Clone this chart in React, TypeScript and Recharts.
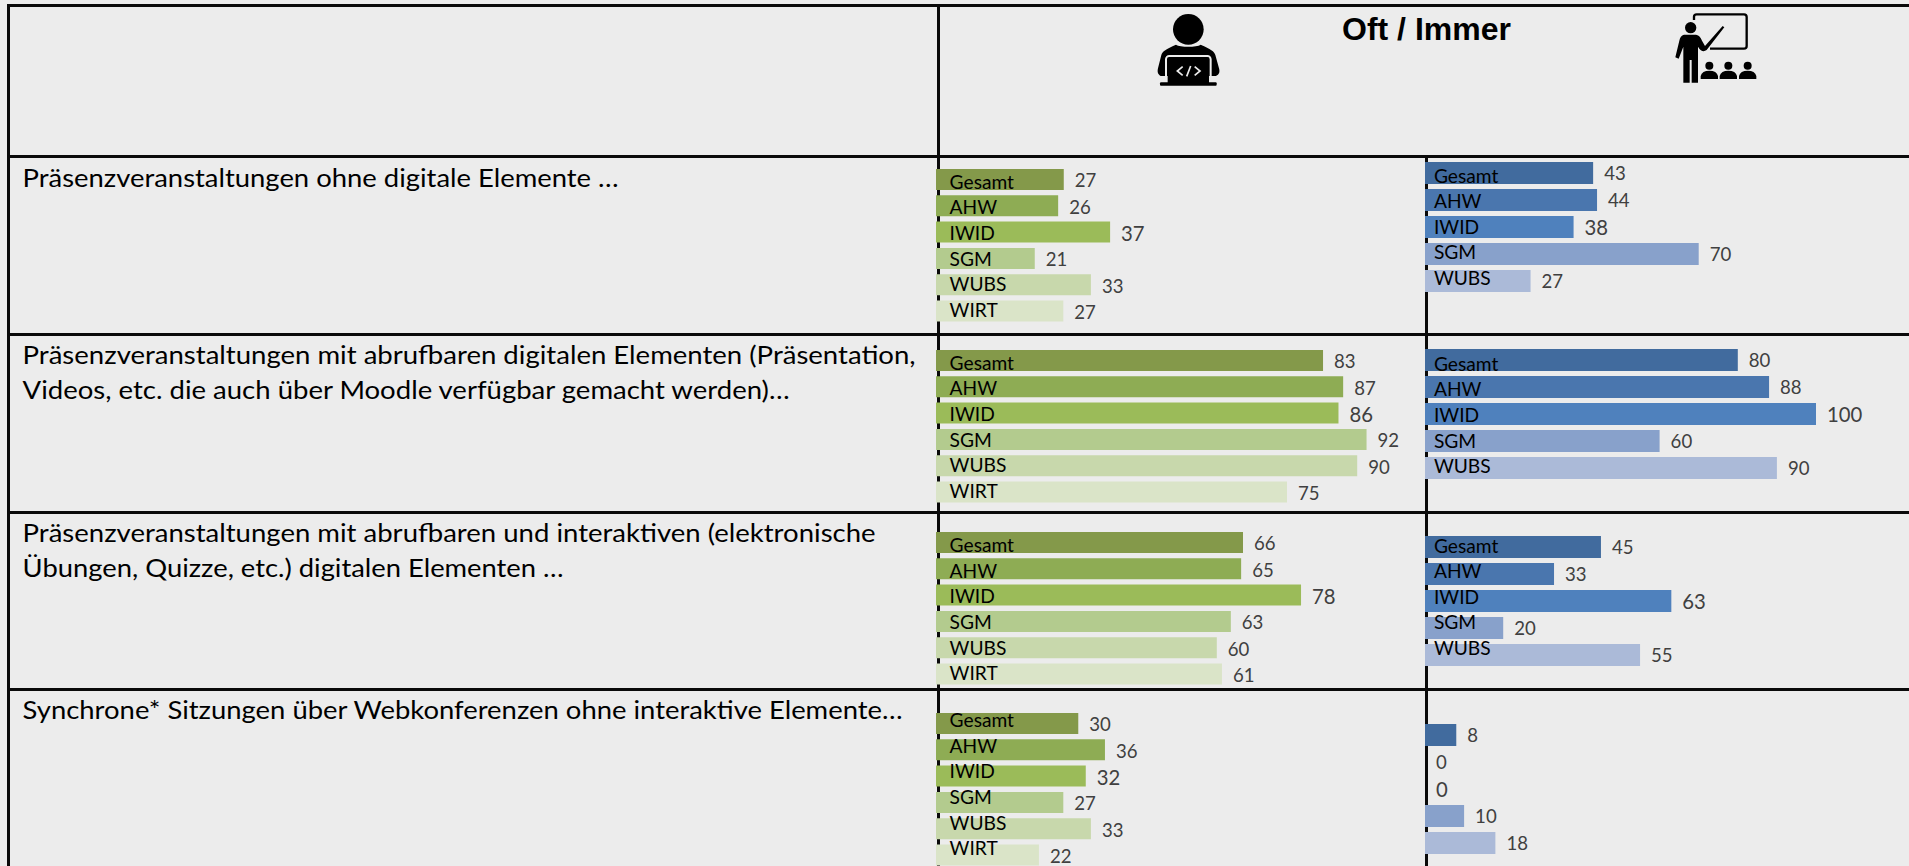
import React from "react";
import { BarChart, Bar, XAxis, YAxis, Cell, LabelList } from "recharts";

const studentCategories = ["Gesamt", "AHW", "IWID", "SGM", "WUBS", "WIRT"];
const teacherCategories = ["Gesamt", "AHW", "IWID", "SGM", "WUBS"];

const studentOhneDigital = [27.3, 26.1, 37.2, 21.1, 33.1, 27.2];
const studentAbrufbar = [82.7, 87, 86, 92, 90, 75];
const studentInteraktiv = [65.6, 65.2, 78, 63, 60, 61.1];
const studentSynchron = [30.4, 36.1, 32, 27.2, 33.1, 22];

const teacherOhneDigital = [43, 44, 38, 70, 27];
const teacherAbrufbar = [80, 88, 100, 60, 90];
const teacherInteraktiv = [45, 33, 63, 20, 55];
const teacherSynchron = [8, 0, 0, 10, 18];

const greenColors = ["#84994A", "#8EAC54", "#9BBB59", "#B3CB8E", "#C8D8AC", "#DAE4C8"];
const blueColors = ["#416B9E", "#4A76AE", "#4F81BD", "#88A1CB", "#ABBAD8"];

const BG = "#ECECEC";
const LINE = "#0A0A0A";
const TEXT_FONT = "Lato, sans-serif";

const LABEL_PITCH = 25.65;
const CHART_PAD = 12;

type PanelProps = {
  left: number;
  firstBarTop: number;
  pitch: number;
  barHeight: number;
  unit: number;
  categories: string[];
  values: number[];
  colors: string[];
  labelTop: number | null;
  labelInset: number;
  valueShift: number;
};

function Panel({ left, firstBarTop, pitch, barHeight, unit, categories, values, colors, labelTop, labelInset, valueShift }: PanelProps) {
  const data = categories.map((name, i) => ({ name, value: values[i] }));
  const plotWidth = unit * 100;
  const height = pitch * categories.length + CHART_PAD * 2;
  const top = firstBarTop - (pitch - barHeight) / 2 - CHART_PAD;
  const extra = 90;

  const renderValue = (p: any) => {
    const big = categories[p.index] === "IWID";
    return (
      <text
        x={Number(p.x) + Number(p.width) + 11}
        y={Number(p.y) + Number(p.height) / 2 + valueShift}
        dominantBaseline="central"
        fontFamily={TEXT_FONT}
        fontSize={big ? 20.3 : 18.6}
        fill="#404040"
      >
        {String(Math.round(values[p.index]))}
      </text>
    );
  };

  const renderCategory = (p: any) => {
    if (labelTop === null) return null;
    return (
      <text
        x={labelInset}
        y={labelTop + p.index * LABEL_PITCH - top}
        dominantBaseline="central"
        fontFamily={TEXT_FONT}
        fontSize={19.2}
        fill="#000"
      >
        {categories[p.index]}
      </text>
    );
  };

  return (
    <div style={{ position: "absolute", left, top }}>
      <BarChart
        width={plotWidth + extra}
        height={height}
        data={data}
        layout="vertical"
        barCategoryGap={0}
        margin={{ top: CHART_PAD, right: extra, bottom: CHART_PAD, left: 0 }}
      >
        <XAxis type="number" domain={[0, 100]} hide />
        <YAxis type="category" dataKey="name" hide />
        <Bar dataKey="value" barSize={barHeight} minPointSize={0.01} isAnimationActive={false}>
          {data.map((d, i) => (
            <Cell key={d.name} fill={colors[i]} />
          ))}
          <LabelList dataKey="value" content={renderValue} />
          <LabelList dataKey="name" content={renderCategory} />
        </Bar>
      </BarChart>
    </div>
  );
}

function GreenPanel(props: { firstBarTop: number; values: number[]; labelTop: number }) {
  return (
    <Panel
      left={936}
      pitch={26.3}
      barHeight={21}
      unit={4.68}
      categories={studentCategories}
      colors={greenColors}
      labelInset={13.6}
      valueShift={1}
      {...props}
    />
  );
}

function BluePanel(props: { firstBarTop: number; values: number[]; labelTop: number | null }) {
  return (
    <Panel
      left={1425}
      pitch={27}
      barHeight={22}
      unit={3.91}
      categories={teacherCategories}
      colors={blueColors}
      labelInset={8.9}
      valueShift={0}
      {...props}
    />
  );
}

function Rule({ x, y, w, h }: { x: number; y: number; w: number; h: number }) {
  return <div style={{ position: "absolute", left: x, top: y, width: w, height: h, background: LINE }} />;
}

function CoderIcon() {
  return (
    <svg style={{ position: "absolute", left: 1130, top: 0 }} width={120} height={100} viewBox="0 0 360 300">
      <circle cx={175} cy={88} r={46} fill="#000" />
      <path
        d="M92 228 C82 222 82 214 84 205 L94 165 C97 153 108 148 138 134 C150 142 200 142 212 134 C242 148 253 153 256 165 L267 205 C270 216 268 224 258 228 Z"
        fill="#000"
      />
      <rect x={108} y={168} width={134} height={90} rx={10} fill="none" stroke={BG} strokeWidth={6} />
      <rect x={113} y={173} width={124} height={76} fill="#000" />
      <rect x={90} y={247} width={170} height={10} rx={3} fill="#000" />
      <path
        d="M158 200 L142 213 L158 226 M194 200 L210 213 L194 226 M182 198 L170 229"
        fill="none"
        stroke={BG}
        strokeWidth={5}
      />
    </svg>
  );
}

function TeacherIcon() {
  const students = [148, 205, 263];
  return (
    <svg style={{ position: "absolute", left: 1660, top: 0 }} width={120} height={100} viewBox="0 0 360 300">
      <path d="M102 60 L102 50 Q102 43 110 43 L252 43 Q260 43 260 51 L260 138 Q260 146 252 146 L150 146" fill="none" stroke="#000" strokeWidth={7} />
      <circle cx={92} cy={83} r={17} fill="#000" />
      <path
        d="M72 104 L108 104 C118 106 122 112 126 122 L135 138 L188 78 L193 82 L140 150 C132 156 124 154 118 146 L114 140 L114 248 L95 248 L95 180 L89 180 L89 248 L70 248 L70 140 L56 176 L46 172 L58 122 C60 112 64 106 72 104 Z"
        fill="#000"
      />
      {students.map((cx) => (
        <g key={cx}>
          <circle cx={cx} cy={197} r={12} fill="#000" />
          <path d={`M${cx - 26} 237 L${cx - 26} 228 Q${cx - 22} 212 ${cx} 212 Q${cx + 22} 212 ${cx + 26} 228 L${cx + 26} 237 Z`} fill="#000" />
        </g>
      ))}
    </svg>
  );
}

const rowTexts = [
  { text: "Präsenzveranstaltungen ohne digitale Elemente …", width: 596, baseline: 186.7 },
  { text: "Präsenzveranstaltungen mit abrufbaren digitalen Elementen (Präsentation,", width: 893, baseline: 364.3 },
  { text: "Videos, etc. die auch über Moodle verfügbar gemacht werden)…", width: 767, baseline: 399 },
  { text: "Präsenzveranstaltungen mit abrufbaren und interaktiven (elektronische", width: 853, baseline: 542.3 },
  { text: "Übungen, Quizze, etc.) digitalen Elementen …", width: 541, baseline: 577 },
  { text: "Synchrone* Sitzungen über Webkonferenzen ohne interaktive Elemente…", width: 880, baseline: 719 },
];

export default function App() {
  return (
    <div style={{ position: "absolute", left: 0, top: 0, width: 1909, height: 866, overflow: "hidden", background: BG }}>
      <Rule x={8} y={4} w={1901} h={3} />
      <Rule x={8} y={154.5} w={1901} h={3} />
      <Rule x={8} y={332.5} w={1901} h={3} />
      <Rule x={8} y={510.5} w={1901} h={3} />
      <Rule x={8} y={688} w={1901} h={3} />
      <Rule x={7} y={4} w={3} h={862} />
      <Rule x={937} y={4} w={3} h={862} />
      <Rule x={1425} y={155} w={3} h={711} />

      <svg style={{ position: "absolute", left: 0, top: 0 }} width={1909} height={866}>
        {rowTexts.map((r) => (
          <text
            key={r.text}
            x={22.6}
            y={r.baseline}
            fontFamily={TEXT_FONT}
            fontSize={25}
            fill="#000"
            textLength={r.width}
            lengthAdjust="spacingAndGlyphs"
          >
            {r.text}
          </text>
        ))}
        <text x={1342} y={39.5} fontFamily="'Liberation Sans', Arial, sans-serif" fontWeight={700} fontSize={32} fill="#000">
          Oft / Immer
        </text>
      </svg>

      <CoderIcon />
      <TeacherIcon />

      <GreenPanel firstBarTop={169} values={studentOhneDigital} labelTop={181.7} />
      <GreenPanel firstBarTop={350} values={studentAbrufbar} labelTop={362.7} />
      <GreenPanel firstBarTop={532} values={studentInteraktiv} labelTop={545} />
      <GreenPanel firstBarTop={713} values={studentSynchron} labelTop={720} />

      <BluePanel firstBarTop={161} values={teacherOhneDigital} labelTop={174.5} />
      <BluePanel firstBarTop={348} values={teacherAbrufbar} labelTop={362.7} />
      <BluePanel firstBarTop={535} values={teacherInteraktiv} labelTop={544.5} />
      <BluePanel firstBarTop={723} values={teacherSynchron} labelTop={null} />
    </div>
  );
}
